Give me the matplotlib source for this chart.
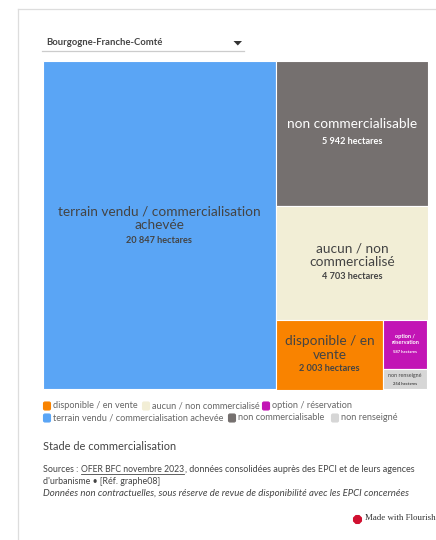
import matplotlib
matplotlib.use('Agg')
import matplotlib.pyplot as plt
from matplotlib.patches import Rectangle, FancyBboxPatch

W, H = 436, 540

categories = ['terrain vendu / commercialisation achevée', 'non commercialisable',
              'aucun / non commercialisé', 'disponible / en vente',
              'option / réservation', 'non renseigné']
hectares = [20847, 5942, 4703, 2003, 587, 254]
value_labels = ['20 847 hectares', '5 942 hectares', '4 703 hectares',
                '2 003 hectares', '587 hectares', '254 hectares']
tile_labels = ['terrain vendu / commercialisation\nachevée', 'non commercialisable',
               'aucun / non\ncommercialisé', 'disponible / en\nvente',
               'option /\nréservation', 'non renseigné']
colors = ['#5aa5f5', '#75706f', '#f2eed6', '#f98300', '#c215b5', '#d6d6d6']

legend_row1 = [('disponible / en vente', '#f98300'), ('aucun / non commercialisé', '#f2eed6'),
               ('option / réservation', '#c215b5')]
legend_row2 = [('terrain vendu / commercialisation achevée', '#5aa5f5'),
               ('non commercialisable', '#75706f'), ('non renseigné', '#d6d6d6')]

plt.rcParams['font.family'] = ['Lato', 'DejaVu Sans']
TXT = '#444444'

fig = plt.figure(figsize=(W / 100, H / 100), dpi=100)
bg = fig.add_axes([0, 0, 1, 1])
bg.set_xlim(0, W)
bg.set_ylim(H, 0)
bg.axis('off')

# card outline
bg.plot([18, 18], [H, 9], color='#dddddd', lw=0.9)
bg.plot([18, W], [9, 9], color='#dddddd', lw=0.9)

# dropdown
bg.text(46, 42.5, 'Bourgogne-Franche-Comté', fontsize=6.8, fontweight='bold', color=TXT, va='center')
bg.plot([42, 244], [51, 51], color='#cccccc', lw=0.9)
bg.fill([233.5, 242, 237.8], [41, 41, 45.5], color='#333333', lw=0)

# treemap, laid out in value units
ax = fig.add_axes([42.5 / W, 1 - 389.5 / H, 385 / W, 328.5 / H])
ax.axis('off')
total = sum(hectares)
ax.set_xlim(0, total)
ax.set_ylim(total, 0)

right = total - hectares[0]
bottom = sum(hectares[3:])
small = sum(hectares[4:])
y1 = total * hectares[1] / right
y2 = y1 + total * hectares[2] / right
x_split = hectares[0] + right * hectares[3] / bottom
y_split = y2 + (total - y2) * hectares[4] / small

boxes = [(0, 0, hectares[0], total),
         (hectares[0], 0, total, y1),
         (hectares[0], y1, total, y2),
         (hectares[0], y2, x_split, total),
         (x_split, y2, total, y_split),
         (x_split, y_split, total, total)]
name_sizes = [9.8, 9.8, 9.8, 9.8, 4.0, 3.9]
val_sizes = [6.6, 6.6, 6.6, 6.6, 3.0, 3.0]
name_weights = ['normal', 'normal', 'normal', 'normal', 'bold', 'normal']
name_cols = ['#444444', 'white', '#444444', '#444444', 'white', '#444444']
# label offsets from the tile centre, in pixels
name_dy = [-7, -9, -7.5, -7, -5, -4]
val_dy = [15, 8, 14, 14, 7.5, 5]

px = total / 328.5
for i, (x0, y0, x1, y3) in enumerate(boxes):
    ax.add_patch(Rectangle((x0, y0), x1 - x0, y3 - y0, facecolor=colors[i], edgecolor='white', lw=0.8))
    xc = (x0 + x1) / 2
    yc = (y0 + y3) / 2
    ax.text(xc, yc + name_dy[i] * px, tile_labels[i], fontsize=name_sizes[i], color=name_cols[i],
            ha='center', va='center', linespacing=1.2, fontweight=name_weights[i])
    ax.text(xc, yc + val_dy[i] * px, value_labels[i], fontsize=val_sizes[i], color=name_cols[i],
            ha='center', va='center', fontweight='bold')


def swatch(x, y, c):
    bg.add_patch(FancyBboxPatch((x + 0.5, y - 4), 7, 8, boxstyle='round,pad=0,rounding_size=1.5',
                                facecolor=c, edgecolor=c, lw=0.8))


# legend rows
for row, y, xs in ((legend_row1, 406, (43, 142, 262)), (legend_row2, 418, (43, 228, 331))):
    for (lab, c), x in zip(row, xs):
        swatch(x, y, c)
        bg.text(x + 10, y, lab, fontsize=6.6, color='#666666', va='center')

bg.text(43, 447, 'Stade de commercialisation', fontsize=7.9, color=TXT, va='center')

# footer notes
bg.text(43, 469, 'Sources : ', fontsize=6.4, color=TXT, va='center')
bg.text(81, 469, 'OFER BFC novembre 2023', fontsize=6.2, color=TXT, va='center')
bg.plot([81, 184], [473.5, 473.5], color=TXT, lw=0.6)
bg.text(184.5, 469, ', données consolidées auprès des EPCI et de leurs agences', fontsize=6.5,
        color=TXT, va='center')
bg.text(43, 481, "d'urbanisme • [Réf. graphe08]", fontsize=6.4, color=TXT, va='center')
bg.text(43, 493, 'Données non contractuelles, sous réserve de revue de disponibilité avec les EPCI concernées',
        fontsize=6.95, color=TXT, va='center', style='italic')

# flourish badge
bg.scatter([357], [518.5], s=50, color='#d01030', marker='8', linewidths=0)
bg.text(365, 518.5, 'Made with Flourish', fontsize=6.4, color='#333333', va='center', family='Liberation Serif')

fig.savefig('out.png', dpi=100)
